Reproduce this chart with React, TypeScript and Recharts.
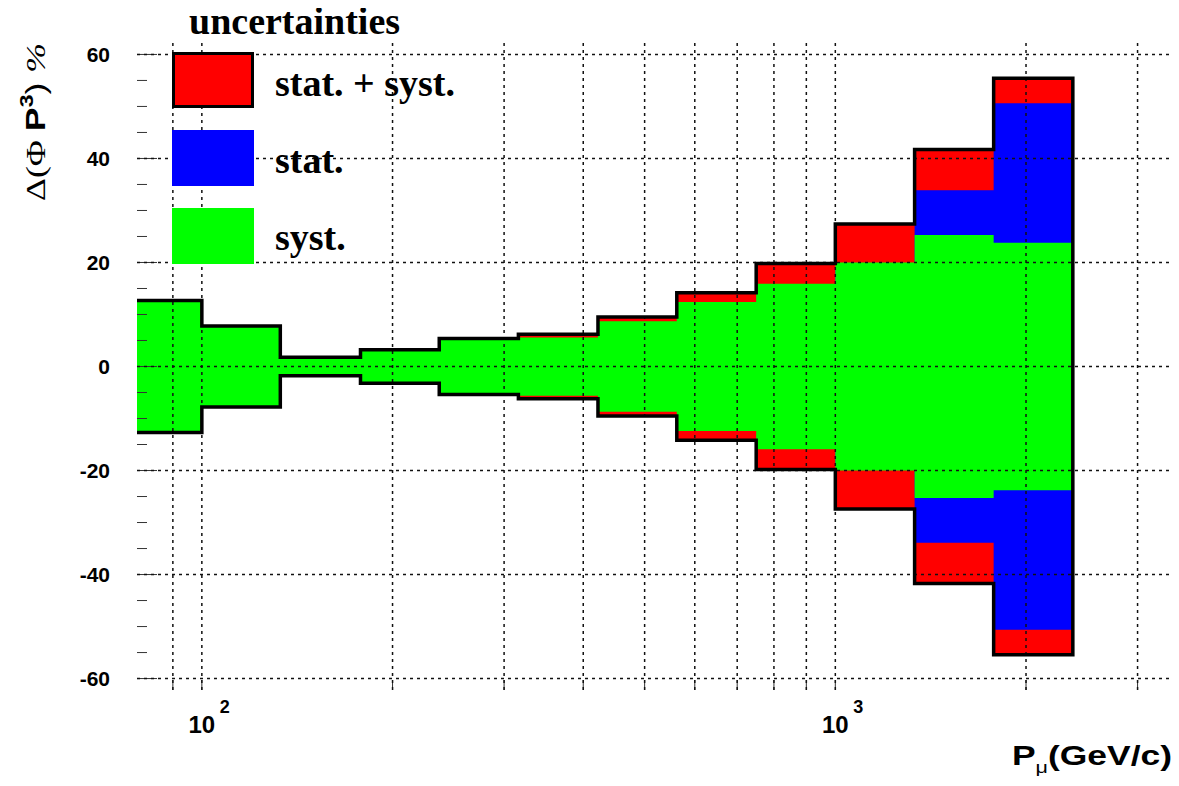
import { ComposedChart, Area, Line, XAxis, YAxis, ReferenceArea } from 'recharts';

// bin edges in GeV/c (8 bins per decade)
const binEdges = [75, 100, 133, 178, 237, 316, 422, 562, 750, 1000, 1334, 1778, 2371];

// half-widths of the uncertainty bands, in %
const totalErr = [12.7, 7.8, 1.8, 3.2, 5.4, 6.2, 9.5, 14.2, 19.8, 27.4, 41.7, 55.4];
const statErr = [1.6, 1.2, 0.4, 0.5, 1.0, 2.7, 3.8, 6.9, 11.8, 18.7, 33.9, 50.6];
const systErr = [12.6, 7.7, 1.75, 3.15, 5.3, 5.6, 8.7, 12.4, 15.9, 20.0, 25.3, 23.8];

const xDomain = [79, 3400];
const yDomain = [-62.2, 62.2];
const xGridTicks = [90, 100, 200, 300, 400, 500, 600, 700, 800, 900, 1000, 2000, 3000];
const yMajorTicks = [-60, -40, -20, 0, 20, 40, 60];
const yAllTicks = [-60, -55, -50, -45, -40, -35, -30, -25, -20, -15, -10, -5, 0, 5, 10, 15, 20, 25, 30, 35, 40, 45, 50, 55, 60];

const legendItems = [
  { label: 'stat. + syst.', color: '#ff0000', border: true },
  { label: 'stat.', color: '#0000ff', border: false },
  { label: 'syst.', color: '#00ff00', border: false },
];

const nBins = totalErr.length;

// one point per bin edge; the last edge repeats the last bin for the step curve
const histData = binEdges.map((p, i) => {
  const k = Math.min(i, nBins - 1);
  return {
    p,
    tot: [-totalErr[k], totalErr[k]],
    st: [-statErr[k], statErr[k]],
    sy: [-systErr[k], systErr[k]],
  };
});

// closed black outline: top left->right, down the last edge, bottom right->left
const outline = [
  ...totalErr.map((t, i) => ({ p: binEdges[i], v: t })),
  { p: binEdges[nBins], v: totalErr[nBins - 1] },
  { p: binEdges[nBins], v: -totalErr[nBins - 1] },
];
for (let i = nBins - 1; i >= 1; i--) outline.push({ p: binEdges[i], v: -totalErr[i - 1] });
outline.push({ p: binEdges[0], v: -totalErr[0] });

// grid as two-point line series, drawn in the top layer (ROOT puts the grid over the fills)
const gridLines = [
  ...xGridTicks.map((v) => ({ id: `gx${v}`, pts: [{ p: v, v: yDomain[0] }, { p: v, v: yDomain[1] }] })),
  ...yMajorTicks.map((v) => ({ id: `gy${v}`, pts: [{ p: xDomain[0], v }, { p: xDomain[1], v }] })),
];

const W = 1171;
const H = 778;
const MARGIN = { top: 35, right: 7, bottom: 56, left: 69 };

const SANS = '"Liberation Sans", Arial, sans-serif';
const SERIF = '"Liberation Serif", "Times New Roman", serif';

const XTick = (props: any) => {
  const { x, y, payload } = props;
  const v = payload.value;
  const exp = Math.log10(v);
  const isDecade = Math.abs(exp - Math.round(exp)) < 1e-9;
  return (
    <g>
      <line x1={x} x2={x} y1={y} y2={y - 10} stroke="#333" strokeWidth={1} />
      {isDecade && (
        <g fontFamily={SANS} fontWeight="bold" fill="#000">
          <text x={x} y={y + 43} textAnchor="middle" fontSize={24}>10</text>
          <text x={x + 18} y={y + 23} textAnchor="start" fontSize={18}>{Math.round(exp)}</text>
        </g>
      )}
    </g>
  );
};

const YTick = (props: any) => {
  const { x, y, payload } = props;
  const major = yMajorTicks.includes(payload.value);
  return (
    <g>
      <line x1={x} x2={x + (major ? 20 : 10)} y1={y} y2={y} stroke="#333" strokeWidth={1} />
      {major && (
        <text x={x - 27} y={y} dy="0.36em" textAnchor="end" fontFamily={SANS} fontWeight="bold" fontSize={21} fill="#000">
          {payload.value}
        </text>
      )}
    </g>
  );
};

// same axes in both layers so the plot areas line up exactly
const axes = (withTicks: boolean) => [
  <XAxis
    key="x"
    dataKey="p"
    type="number"
    scale="log"
    domain={xDomain}
    allowDataOverflow
    ticks={xGridTicks}
    interval={0}
    height={40}
    tickSize={0}
    tickMargin={0}
    tickLine={false}
    axisLine={false}
    tick={withTicks ? <XTick /> : false}
  />,
  <YAxis
    key="y"
    type="number"
    domain={yDomain}
    allowDataOverflow
    ticks={yAllTicks}
    interval={0}
    width={60}
    tickSize={0}
    tickMargin={0}
    tickLine={false}
    axisLine={false}
    tick={withTicks ? <YTick /> : false}
  />,
];

export default function App() {
  return (
    <div style={{ position: 'relative', width: W, height: H }}>
      {/* bottom layer: filled bands, frame, ticks */}
      <div style={{ position: 'absolute', left: 0, top: 0, zIndex: 1 }}>
        <ComposedChart width={W} height={H} data={histData} margin={MARGIN}>
          {axes(true)}
          <Area dataKey="tot" type="stepAfter" stroke="none" fill="#ff0000" fillOpacity={1} dot={false} activeDot={false} isAnimationActive={false} />
          <Area dataKey="st" type="stepAfter" stroke="none" fill="#0000ff" fillOpacity={1} dot={false} activeDot={false} isAnimationActive={false} />
          <Area dataKey="sy" type="stepAfter" stroke="none" fill="#00ff00" fillOpacity={1} dot={false} activeDot={false} isAnimationActive={false} />
          <ReferenceArea fill="none" stroke="#333" strokeWidth={1.5} />
        </ComposedChart>
      </div>

      {/* top layer: grid and black outline */}
      <div style={{ position: 'absolute', left: 0, top: 0, zIndex: 2, pointerEvents: 'none' }}>
        <ComposedChart width={W} height={H} data={outline} margin={MARGIN}>
          {axes(false)}
          {gridLines.map((gl) => (
            <Line
              key={gl.id}
              data={gl.pts}
              dataKey="v"
              type="linear"
              stroke="#111"
              strokeWidth={1.5}
              strokeDasharray="3 4"
              dot={false}
              activeDot={false}
              isAnimationActive={false}
            />
          ))}
          <Line
            data={outline}
            dataKey="v"
            type="stepAfter"
            stroke="#000"
            strokeWidth={3.5}
            dot={false}
            activeDot={false}
            isAnimationActive={false}
          />
        </ComposedChart>
      </div>

      <svg width={W} height={H} style={{ position: 'absolute', left: 0, top: 0, zIndex: 3, pointerEvents: 'none' }}>
        <text x={181} y={26} fontFamily={SERIF} fontWeight="bold" fontSize={38} fill="#000">
          uncertainties
        </text>

        {legendItems.map((item, i) => (
          <g key={item.label}>
            <rect
              x={item.border ? 165.5 : 164}
              y={(item.border ? 45.5 : 44) + i * 78}
              width={item.border ? 79 : 82}
              height={item.border ? 53 : 56}
              fill={item.color}
              stroke={item.border ? '#000' : 'none'}
              strokeWidth={3}
            />
            <text x={267} y={88 + i * 77} fontFamily={SERIF} fontWeight="bold" fontSize={38} fill="#000">
              {item.label}
            </text>
          </g>
        ))}

        <text
          transform="translate(37,35) rotate(-90)"
          textAnchor="end"
          fontFamily={SANS}
          fontSize={28}
          fill="#000"
          textLength={158}
          lengthAdjust="spacingAndGlyphs"
        >
          <tspan fontFamily={SERIF}>Δ(Φ </tspan>
          <tspan fontWeight="bold">P</tspan>
          <tspan fontWeight="bold" fontSize={18} dy={-12}>3</tspan>
          <tspan dy={12}>) </tspan>
          <tspan fontFamily={SERIF} fontStyle="italic">%</tspan>
        </text>

        <text
          x={1164}
          y={757}
          textAnchor="end"
          fontFamily={SANS}
          fontWeight="bold"
          fontSize={28}
          fill="#000"
          textLength={160}
          lengthAdjust="spacingAndGlyphs"
        >
          <tspan>P</tspan>
          <tspan fontWeight="normal" fontSize={17} dy={8}>μ</tspan>
          <tspan dy={-8}>(GeV/c)</tspan>
        </text>
      </svg>
    </div>
  );
}
